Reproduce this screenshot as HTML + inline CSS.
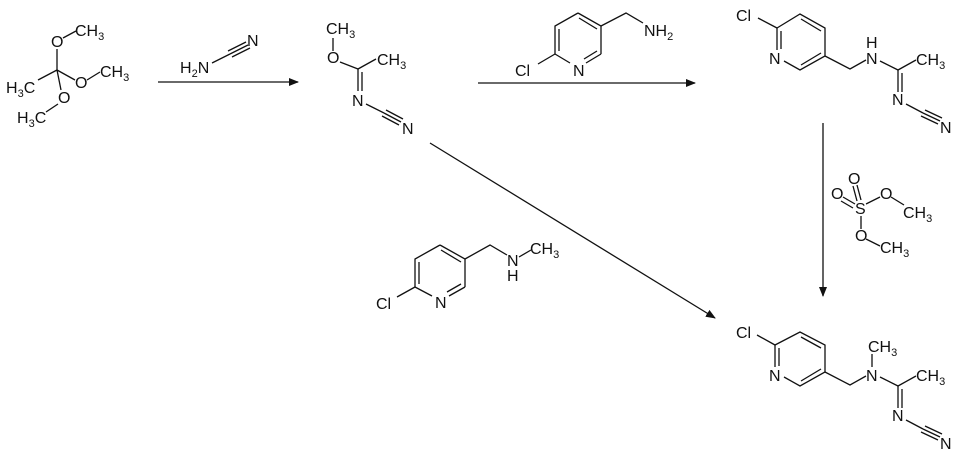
<!DOCTYPE html>
<html><head><meta charset="utf-8"><style>
html,body{margin:0;padding:0;background:#fff;}
svg{display:block;}
text{font-family:"Liberation Sans",Arial,sans-serif;font-size:16px;fill:#111;}
.s{font-size:11px;}
line,polyline{stroke:#111;stroke-width:1.3;fill:none;}
</style></head><body>
<svg width="960" height="468" viewBox="0 0 960 468" xmlns="http://www.w3.org/2000/svg">
<defs><marker id="ah" markerWidth="10" markerHeight="8" refX="9" refY="4" orient="auto" markerUnits="userSpaceOnUse"><path d="M0,0 L10,4 L0,8 z" fill="#111"/></marker></defs>

<line x1="57" y1="49" x2="57" y2="70"/>
<line x1="57" y1="70" x2="38" y2="80"/>
<line x1="57" y1="70" x2="75" y2="80"/>
<line x1="57" y1="70" x2="61" y2="90"/>
<line x1="63" y1="38" x2="76" y2="31"/>
<line x1="87" y1="80" x2="100" y2="72"/>
<line x1="58" y1="104" x2="46" y2="112"/>
<text x="51" y="47">O</text>
<text x="75" y="36">CH<tspan class="s" dy="4">3</tspan></text>
<text x="6" y="93">H<tspan class="s" dy="4">3</tspan><tspan dy="-4">C</tspan></text>
<text x="75" y="88">O</text>
<text x="100" y="77">CH<tspan class="s" dy="4">3</tspan></text>
<text x="58" y="103">O</text>
<text x="17" y="123">H<tspan class="s" dy="4">3</tspan><tspan dy="-4">C</tspan></text>

<line x1="158" y1="82" x2="298" y2="82" marker-end="url(#ah)"/>
<text x="180" y="73">H<tspan class="s" dy="4">2</tspan><tspan dy="-4">N</tspan></text>
<line x1="212" y1="63" x2="230" y2="54"/>
<line x1="230" y1="54" x2="248" y2="45"/>
<line x1="228" y1="51" x2="246" y2="42"/>
<line x1="232" y1="57" x2="250" y2="48"/>
<text x="247" y="46">N</text>

<line x1="333" y1="51" x2="333" y2="38"/>
<text x="326" y="34">CH<tspan class="s" dy="4">3</tspan></text>
<text x="327" y="63">O</text>
<line x1="340" y1="62" x2="358" y2="69"/>
<line x1="358" y1="69" x2="376" y2="59"/>
<text x="377" y="65">CH<tspan class="s" dy="4">3</tspan></text>
<line x1="358" y1="69" x2="358" y2="91"/>
<line x1="362" y1="72" x2="362" y2="91"/>
<text x="352" y="106">N</text>
<line x1="366" y1="104" x2="384" y2="113"/>
<line x1="384" y1="113" x2="401" y2="122"/>
<line x1="386" y1="110" x2="403" y2="119"/>
<line x1="382" y1="116" x2="399" y2="125"/>
<text x="402" y="134">N</text>

<line x1="478" y1="83" x2="695" y2="83" marker-end="url(#ah)"/>
<polyline points="578,13 601,26 601,54"/>
<line x1="601" y1="54" x2="586" y2="63"/>
<line x1="570" y1="63" x2="555" y2="54"/>
<polyline points="555,54 555,26 578,13"/>
<line x1="559" y1="51" x2="559" y2="29"/>
<line x1="579" y1="18" x2="597" y2="29"/>
<line x1="597" y1="51" x2="584" y2="59"/>
<line x1="555" y1="54" x2="538" y2="64"/>
<text x="573" y="76">N</text>
<text x="515" y="76">Cl</text>
<polyline points="601,26 626,13 643,23"/>
<text x="644" y="36">NH<tspan class="s" dy="4">2</tspan></text>

<polyline points="777,28 800,14 825,28 825,56 800,70 784,61"/>
<line x1="777" y1="28" x2="777" y2="50"/>
<line x1="781" y1="31" x2="781" y2="49"/>
<line x1="801" y1="19" x2="821" y2="31"/>
<line x1="801" y1="65" x2="821" y2="53"/>
<line x1="777" y1="28" x2="758" y2="18"/>
<text x="736" y="21">Cl</text>
<text x="769" y="64">N</text>
<polyline points="825,56 850,69 866,60"/>
<text x="866" y="64">N</text>
<text x="866" y="48">H</text>
<line x1="880" y1="61" x2="898" y2="70"/>
<line x1="898" y1="70" x2="916" y2="60"/>
<text x="916" y="65">CH<tspan class="s" dy="4">3</tspan></text>
<line x1="898" y1="70" x2="898" y2="92"/>
<line x1="902" y1="73" x2="902" y2="92"/>
<text x="892" y="105">N</text>
<line x1="906" y1="104" x2="923" y2="113"/>
<line x1="923" y1="113" x2="940" y2="121"/>
<line x1="925" y1="110" x2="942" y2="118"/>
<line x1="921" y1="116" x2="938" y2="124"/>
<text x="940" y="133">N</text>

<line x1="823" y1="123" x2="823" y2="296" marker-end="url(#ah)"/>
<text x="848" y="184">O</text>
<text x="831" y="199">O</text>
<text x="855" y="214">S</text>
<text x="880" y="199">O</text>
<text x="855" y="241">O</text>
<text x="903" y="218">CH<tspan class="s" dy="4">3</tspan></text>
<text x="880" y="253">CH<tspan class="s" dy="4">3</tspan></text>
<line x1="853" y1="186" x2="857" y2="201"/>
<line x1="857" y1="185" x2="861" y2="200"/>
<line x1="843" y1="197" x2="855" y2="204"/>
<line x1="841" y1="201" x2="853" y2="208"/>
<line x1="866" y1="204" x2="880" y2="197"/>
<line x1="891" y1="197" x2="904" y2="205"/>
<line x1="861" y1="216" x2="861" y2="229"/>
<line x1="866" y1="239" x2="880" y2="246"/>

<line x1="430" y1="143" x2="715" y2="318" marker-end="url(#ah)"/>

<polyline points="440,245 465,259 465,287"/>
<line x1="465" y1="287" x2="449" y2="296"/>
<line x1="432" y1="296" x2="415" y2="287"/>
<polyline points="415,287 415,259 440,245"/>
<line x1="419" y1="284" x2="419" y2="262"/>
<line x1="441" y1="250" x2="461" y2="262"/>
<line x1="461" y1="284" x2="447" y2="292"/>
<line x1="415" y1="287" x2="397" y2="297"/>
<text x="376" y="309">Cl</text>
<text x="435" y="308">N</text>
<polyline points="465,259 490,245 507,255"/>
<text x="507" y="266">N</text>
<text x="507" y="281">H</text>
<line x1="519" y1="257" x2="531" y2="250"/>
<text x="530" y="254">CH<tspan class="s" dy="4">3</tspan></text>

<polyline points="775,345 800,332 825,345 825,372 800,386 784,377"/>
<line x1="775" y1="345" x2="775" y2="367"/>
<line x1="779" y1="348" x2="779" y2="366"/>
<line x1="801" y1="337" x2="821" y2="348"/>
<line x1="801" y1="381" x2="821" y2="369"/>
<line x1="775" y1="345" x2="757" y2="335"/>
<text x="736" y="338">Cl</text>
<text x="769" y="381">N</text>
<polyline points="825,372 850,385 866,376"/>
<text x="866" y="381">N</text>
<line x1="872" y1="367" x2="872" y2="354"/>
<text x="868" y="352">CH<tspan class="s" dy="4">3</tspan></text>
<line x1="880" y1="377" x2="898" y2="386"/>
<line x1="898" y1="386" x2="916" y2="376"/>
<text x="916" y="381">CH<tspan class="s" dy="4">3</tspan></text>
<line x1="898" y1="386" x2="898" y2="408"/>
<line x1="902" y1="389" x2="902" y2="408"/>
<text x="892" y="421">N</text>
<line x1="906" y1="420" x2="923" y2="429"/>
<line x1="923" y1="429" x2="940" y2="437"/>
<line x1="925" y1="426" x2="942" y2="434"/>
<line x1="921" y1="432" x2="938" y2="440"/>
<text x="940" y="449">N</text>
</svg>
</body></html>
